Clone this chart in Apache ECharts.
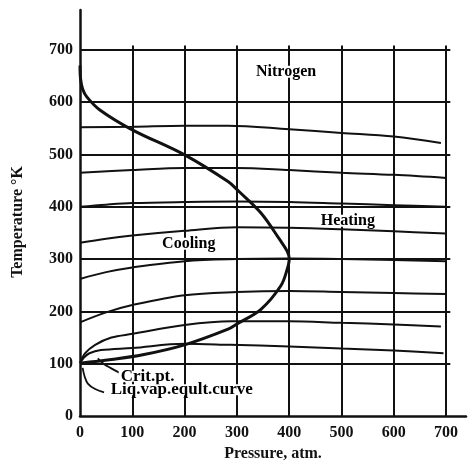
<!DOCTYPE html>
<html><head><meta charset="utf-8">
<script src="https://cdn.jsdelivr.net/npm/echarts@6/dist/echarts.min.js"></script>
<style>html,body{margin:0;padding:0;background:#fff}#c{width:468px;height:466px}</style>
</head><body><div id="c"></div>
<script>
// tick values
const xTicks = [100, 200, 300, 400, 500, 600, 700];
const yTicks = [100, 200, 300, 400, 500, 600, 700];
// isenthalpic curves [pressure atm, temperature K]
const curve1 = [[0,552],[100,553],[200,555],[283,555],[400,548],[500,541],[600,534],[690,522]];
const curve2 = [[0,465],[100,470],[200,474],[300,474],[400,470],[500,465],[600,461],[700,455]];
const curve3 = [[0,400],[50,404],[100,407],[200,409],[300,410],[400,409],[500,406],[600,403],[700,400]];
const curve4 = [[0,331],[50,339],[100,345],[200,354],[300,361],[400,360],[500,357],[600,353],[700,349]];
const curve5 = [[0,262],[50,275],[100,284],[200,296],[300,300],[400,301],[500,300],[600,298],[700,296]];
const curve6 = [[0,179],[50,198],[100,212],[200,231],[300,237],[400,239],[500,237],[600,235],[700,233]];
const curve7 = [[0,101],[10,120],[29,136],[60,150],[100,157],[200,174],[290,181],[400,181],[500,178],[600,175],[690,171]];
const curve8 = [[0,101],[8,112],[18,120],[40,126],[100,130],[200,138],[287,136],[400,133],[500,129],[600,125],[695,120]];
// inversion / liquid-vapour boundary curve
const bigCurve = [[0,670],[1,645],[5,625],[13,610],[38,585],[100,547],[200,499],[283,448],[303,430],[346,388],[382,337],[396,315],[400,300],[396,280],[384,249],[346,204],[300,176],[283,166],[200,136],[120,117],[60,108],[0,101]];
// annotation leaders
const critLeader = [[75,83],[58,92],[45,100],[34,110]];
const liqLeader = [[46,45],[28,52],[15,62],[9,75],[5,92]];
// text labels [P, T, text]
const centerLabels = [[394,658,'Nitrogen'],[512,373,'Heating'],[208,329,'Cooling']];
const liqLabel = [[55,50,'Liq.vap.eqult.curve']];
const critLabel = [[74,76,'Crit.pt.']];

const FONT = 'Liberation Serif';
const chart = echarts.init(document.getElementById('c'));
const gridLines = [];
xTicks.forEach(v => gridLines.push([{coord:[v,0]},{coord:[v,708]}]));
yTicks.forEach(v => gridLines.push([{coord:[0,v]},{coord:[708,v]}]));

function curveSeries(d, w) {
  return {type:'line', data:d, smooth:0.35, symbol:'none', silent:true,
    lineStyle:{color:'#111', width:w}, z:3};
}
function labelSeries(d, pos, size, lh, z) {
  return {type:'scatter', data:d, symbolSize:0, silent:true, z:z,
    itemStyle:{opacity:1, color:'#111'},
    label:{show:true, position:pos, distance:0, formatter:p => p.data[2], opacity:1,
      backgroundColor:'#fff', padding:[0,2], lineHeight:lh,
      textBorderWidth:0, fontFamily:FONT, fontWeight:'bold', fontSize:size, color:'#000'}};
}
chart.setOption({
  animation:false,
  backgroundColor:'#fff',
  grid:{left:80, right:2, top:10, bottom:50, outerBoundsMode:'none', containLabel:false},
  xAxis:{type:'value', min:0, max:738, interval:100,
    name:'Pressure, atm.', nameLocation:'middle', nameGap:29,
    nameTextStyle:{fontFamily:FONT, fontWeight:'bold', fontSize:16, color:'#111'},
    axisLine:{show:true, lineStyle:{color:'#111', width:2.5}},
    axisTick:{show:false}, splitLine:{show:false},
    axisLabel:{fontFamily:FONT, fontWeight:'bold', fontSize:16, color:'#111', margin:9,
      formatter:v => (v % 100 === 0 && v <= 700) ? String(v) : ''}},
  yAxis:{type:'value', min:0, max:776, interval:100,
    name:'Temperature °K', nameLocation:'middle', nameGap:54,
    nameTextStyle:{fontFamily:FONT, fontWeight:'bold', fontSize:16, color:'#111', padding:[0,0,0,-18]},
    axisLine:{show:true, lineStyle:{color:'#111', width:2.5}},
    axisTick:{show:false}, splitLine:{show:false},
    axisLabel:{fontFamily:FONT, fontWeight:'bold', fontSize:16, color:'#111', margin:7,
      formatter:v => (v % 100 === 0 && v <= 700) ? String(v) : ''}},
  series:[
    {type:'line', data:[], symbol:'none', silent:true,
      markLine:{silent:true, symbol:'none', label:{show:false},
        lineStyle:{color:'#111', width:2, type:'solid'}, data:gridLines}},
    curveSeries(curve1, 2), curveSeries(curve2, 2), curveSeries(curve3, 2),
    curveSeries(curve4, 2), curveSeries(curve5, 2), curveSeries(curve6, 2),
    curveSeries(curve7, 2), curveSeries(curve8, 2),
    curveSeries(bigCurve, 3),
    curveSeries(critLeader, 1.8), curveSeries(liqLeader, 1.8),
    labelSeries(centerLabels, 'inside', 16, 12, 5),
    labelSeries(critLabel, 'right', 17, 11, 6),
    labelSeries(liqLabel, 'right', 17, 11, 7)
  ]
});
</script></body></html>
